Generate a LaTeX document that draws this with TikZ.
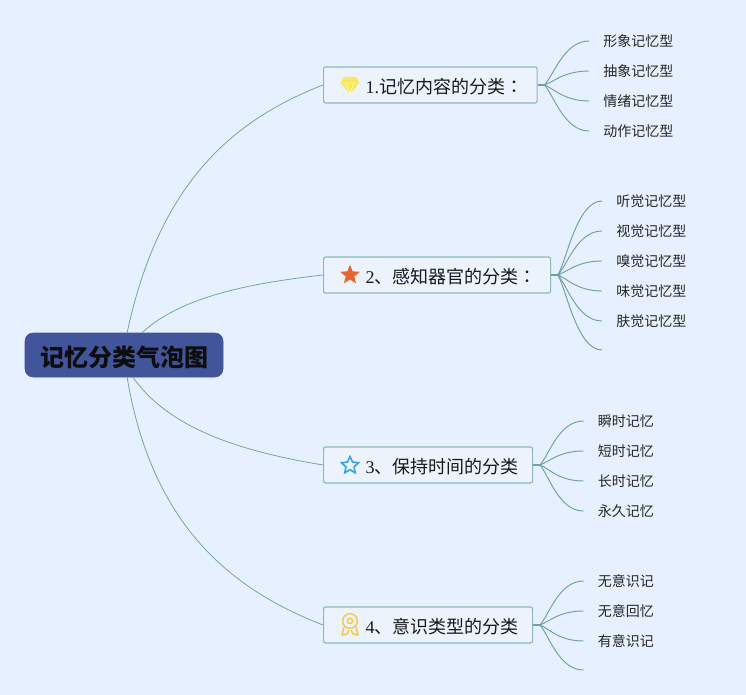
\documentclass[tikz,border=0pt]{standalone}
\usepackage{fontspec}
\setmainfont{Liberation Serif}
\newfontfamily\cjk{Noto Sans CJK SC}
\newfontfamily\cjkcolon{Noto Sans CJK TC}
\usetikzlibrary{shapes.geometric, calc}

\definecolor{bgblue}{HTML}{E6F0FE}
\definecolor{rootblue}{HTML}{42559B}
\definecolor{boxfill}{HTML}{EDF3FD}
\definecolor{boxline}{HTML}{8FB8BE}
\definecolor{linkteal}{HTML}{6F9FA0}
\definecolor{staronange}{HTML}{E5662C}
\definecolor{starblue}{HTML}{3AA3E3}
\definecolor{gemyellow}{HTML}{F7E95A}
\definecolor{medalgold}{HTML}{F8C64D}
\newcommand{\iconspace}{\hspace*{21pt}}

\begin{document}
\begin{tikzpicture}[
    x=0.75pt, y=-0.75pt,
    rootnode/.style={draw=rootblue, fill=rootblue, rounded corners=6pt, minimum width=148.5pt, minimum height=33pt, inner sep=0pt, text height=18.6pt, text depth=2pt, text=black!95, font=\cjk\fontsize{18}{20}\selectfont\bfseries},
    branch/.style={draw=boxline, line width=0.9pt, fill=boxfill, rounded corners=1.5pt, anchor=west, minimum height=27pt, inner xsep=10.5pt, inner ysep=0pt, text height=14.2pt, text depth=2pt, text=black!90, font=\fontsize{13.5}{15}\selectfont},
    leaf/.style={anchor=west, inner xsep=10.5pt, inner ysep=0pt, text=black!85, font=\cjk\fontsize{10.5}{12}\selectfont},
    link/.style={draw=linkteal, line width=0.55pt},
    fan/.style={draw=linkteal, line width=0.7pt},
    stub/.style={draw=linkteal, line width=1.5pt},
    medal/.style={draw=medalgold, line width=1.1pt, line join=round}
  ]

  \useasboundingbox (0,0) rectangle (746,695);
  \fill[bgblue] (0,0) rectangle (746,695);

  \node[rootnode] (root) at (124,355) {记忆分类气泡图};

  \node[branch] (mem) at (323,85) {\iconspace 1.{\cjk 记忆内容的分类}{\cjkcolon ：}};
  \node[branch] (sense) at (323,275) {\iconspace 2{\cjk 、感知器官的分类}{\cjkcolon ：}};
  \node[branch] (keep) at (323,465) {\iconspace 3{\cjk 、保持时间的分类}};
  \node[branch] (aware) at (323,625) {\iconspace 4{\cjk 、意识类型的分类}};

  % icons
  \node[star, star points=5, star point ratio=2.3, fill=staronange, inner sep=0pt, minimum size=15.5pt] (iconstar) at (350,275) {};
  \node[star, star points=5, star point ratio=2.1, draw=starblue, line width=1.2pt, inner sep=0pt, minimum size=13.5pt] (iconhollow) at (350,465.5) {};
  \coordinate (icongem) at (350,85);
  \fill[gemyellow] ([shift={(-6,-8)}]icongem) -- ([shift={(6,-8)}]icongem) -- ([shift={(9.5,-2)}]icongem) -- ([shift={(0,9)}]icongem) -- ([shift={(-9.5,-2)}]icongem) -- cycle;
  \draw[white, line width=0.3pt] ([shift={(-9.5,-2)}]icongem) -- ([shift={(9.5,-2)}]icongem) ([shift={(-4,-2)}]icongem) -- ([shift={(0,9)}]icongem) -- ([shift={(4,-2)}]icongem);
  \coordinate (iconmedal) at (350,621);
  \draw[medal] (iconmedal) circle (5.5pt);
  \draw[medal] (iconmedal) circle (2pt);
  \draw[medal] ([shift={(-6,6)}]iconmedal) -- ([shift={(-8,14)}]iconmedal) -- ([shift={(-3,13)}]iconmedal) -- ([shift={(-1,9)}]iconmedal);
  \draw[medal] ([shift={(6,6)}]iconmedal) -- ([shift={(8,14)}]iconmedal) -- ([shift={(3,13)}]iconmedal) -- ([shift={(1,9)}]iconmedal);

  % root links
  \draw[link] (root.82) .. controls +(32,-150) and +(-90,35) .. (mem.west);
  \draw[link] (root.51) .. controls +(40,-37) and +(-70,8) .. (sense.west);
  \draw[link] (root.-68) .. controls +(37,53) and +(-78,-13) .. (keep.west);
  \draw[link] (root.-82) .. controls +(25,150) and +(-90,-35) .. (aware.west);

  % thick stubs at the forks
  \foreach \from in {mem, sense, keep, aware} {
    \coordinate (\from-fork) at ([xshift=5pt]\from.east);
    \draw[stub] (\from.east) -- (\from-fork);
  }

  % leaves
  \foreach \name/\ypos/\txt in {a/41/形象记忆型, b/71/抽象记忆型, c/101/情绪记忆型, d/131/动作记忆型} {
    \node[leaf] (mem\name) at (589,\ypos) {\txt};
    \draw[fan] (mem-fork) .. controls ($(mem-fork)!0.2!(mem\name.west)$) and +(-25,0) .. (mem\name.west);
  }
  \foreach \name/\ypos/\txt in {a/201/听觉记忆型, b/231/视觉记忆型, c/261/嗅觉记忆型, d/291/味觉记忆型, e/321/肤觉记忆型} {
    \node[leaf] (sense\name) at (602,\ypos) {\txt};
    \draw[fan] (sense-fork) .. controls ($(sense-fork)!0.2!(sense\name.west)$) and +(-25,0) .. (sense\name.west);
  }
  \coordinate (sensef) at (602,350);
  \draw[fan] (sense-fork) .. controls ($(sense-fork)!0.2!(sensef)$) and +(-25,0) .. (sensef);
  \foreach \name/\ypos/\txt in {a/421/瞬时记忆, b/451/短时记忆, c/481/长时记忆, d/511/永久记忆} {
    \node[leaf] (keep\name) at (583.5,\ypos) {\txt};
    \draw[fan] (keep-fork) .. controls ($(keep-fork)!0.2!(keep\name.west)$) and +(-25,0) .. (keep\name.west);
  }
  \foreach \name/\ypos/\txt in {a/581/无意识记, b/611/无意回忆, c/641/有意识记} {
    \node[leaf] (aware\name) at (583.5,\ypos) {\txt};
    \draw[fan] (aware-fork) .. controls ($(aware-fork)!0.2!(aware\name.west)$) and +(-25,0) .. (aware\name.west);
  }
  \coordinate (awared) at (583.5,670);
  \draw[fan] (aware-fork) .. controls ($(aware-fork)!0.2!(awared)$) and +(-25,0) .. (awared);

\end{tikzpicture}
\end{document}
